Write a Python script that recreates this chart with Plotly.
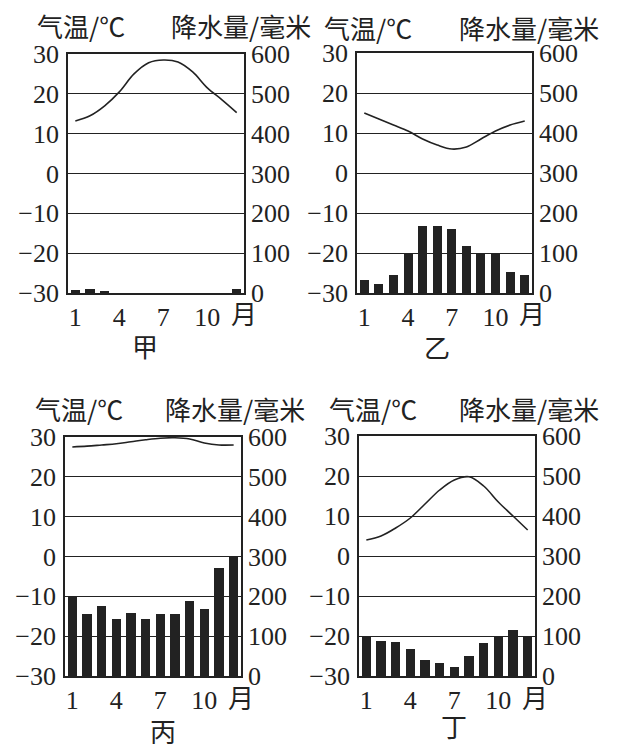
import plotly.graph_objects as go

months = list(range(1, 13))
tick_months = [1, 4, 7, 10]
tick_text = ["1", "4", "7", "10"]
temp_ticks = [-30, -20, -10, 0, 10, 20, 30]
rain_ticks = [0, 100, 200, 300, 400, 500, 600]

names = ["甲", "乙", "丙", "丁"]

# 气温 (℃)
temp_jia = [13.2, 14.5, 17, 20.5, 25, 27.8, 28.5, 28, 25.5, 21.5, 18.5, 15.3]
temp_yi = [15, 13.5, 12, 10.5, 8.5, 7, 6, 6.5, 8.5, 10.5, 12, 13]
temp_bing = [27.5, 27.7, 28, 28.3, 28.8, 29.3, 29.7, 29.8, 29.5, 28.5, 28, 28]
temp_ding = [4, 5, 7, 9.5, 13, 16.5, 19, 19.8, 17.5, 13.5, 10, 6.5]

# 降水量 (毫米)
rain_jia = [8, 11, 5, 0, 0, 0, 0, 0, 0, 0, 0, 11]
rain_yi = [33, 22, 45, 100, 168, 167, 159, 117, 100, 100, 52, 45]
rain_bing = [200, 156, 176, 144, 159, 142, 156, 156, 188, 167, 270, 300]
rain_ding = [100, 88, 84, 68, 41, 32, 23, 50, 83, 100, 116, 100]

temps = [temp_jia, temp_yi, temp_bing, temp_ding]
rains = [rain_jia, rain_yi, rain_bing, rain_ding]

# page body has an 8px margin, so the figure is a bit smaller than the window
OFF = 8
W, H = 620, 746
INK = "#222222"
NUM_FONT = "Times New Roman"
CJK_FONT = "Noto Sans CJK SC"

# plot boxes in window pixels: left, right, top, bottom
boxes = [(68, 244, 54, 293), (357, 532, 53, 293),
         (65, 241, 437, 676), (359, 535, 436, 676)]
# label positions in window pixels: (left title x0, right title x1, title y, name x, name y)
labels = [(35, 313, 25, 145, 345), (322, 601, 27, 437, 346),
          (33, 307, 408, 163, 730), (327, 601, 408, 454, 725)]


def px(v):
    return (v - OFF) / W


def py(v):
    return 1 - (v - OFF) / H


fig = go.Figure()
layout = {}
annotations = []

for i in range(4):
    l, r, t, b = boxes[i]
    xd = [px(l), px(r)]
    yd = [py(b), py(t)]
    xa = "x" if i == 0 else f"x{i + 1}"
    ya = f"y{2 * i + 1}" if i > 0 else "y"
    yb = f"y{2 * i + 2}"
    xkey = "xaxis" if i == 0 else f"xaxis{i + 1}"
    ykey = "yaxis" if i == 0 else f"yaxis{2 * i + 1}"
    ykey2 = f"yaxis{2 * i + 2}"

    fig.add_trace(go.Bar(x=months, y=rains[i], xaxis=xa, yaxis=yb,
                         marker=dict(color=INK, line=dict(width=0)),
                         width=0.62, showlegend=False))
    fig.add_trace(go.Scatter(x=months, y=temps[i], xaxis=xa, yaxis=ya,
                             mode="lines", line=dict(color=INK, width=1.6, shape="spline"),
                             showlegend=False))

    layout[xkey] = dict(domain=xd, anchor=ya, range=[0.5, 12.5], automargin=False,
                        tickvals=tick_months, ticktext=tick_text, ticks="", ticklen=0,
                        showgrid=False, zeroline=False, showline=True, mirror=True,
                        linecolor=INK, linewidth=1.6,
                        tickfont=dict(family=NUM_FONT, size=26, color=INK))
    layout[ykey] = dict(domain=yd, anchor=xa, range=[-30, 30], tickvals=temp_ticks,
                        ticks="", ticklen=0, automargin=False,
                        showgrid=True, gridcolor=INK, gridwidth=1.4,
                        zeroline=False, showline=True, mirror=True,
                        linecolor=INK, linewidth=1.6, ticklabelstandoff=2,
                        tickfont=dict(family=NUM_FONT, size=26, color=INK))
    layout[ykey2] = dict(domain=yd, anchor=xa, overlaying=ya, side="right",
                         range=[0, 600], tickvals=rain_ticks, ticks="", ticklen=0,
                         automargin=False, showgrid=False, zeroline=False, showline=False,
                         ticklabelstandoff=6,
                         tickfont=dict(family=NUM_FONT, size=26, color=INK))

    tx0, tx1, ty, nx, ny = labels[i]
    annotations.append(dict(text="气温/℃", x=px(tx0), y=py(ty), xref="paper", yref="paper",
                            xanchor="left", yanchor="middle", showarrow=False,
                            font=dict(family=CJK_FONT, size=26, color=INK)))
    annotations.append(dict(text="降水量/毫米", x=px(tx1), y=py(ty), xref="paper", yref="paper",
                            xanchor="right", yanchor="middle", showarrow=False,
                            font=dict(family=CJK_FONT, size=26, color=INK)))
    annotations.append(dict(text=names[i], x=px(nx), y=py(ny), xref="paper", yref="paper",
                            xanchor="center", yanchor="middle", showarrow=False,
                            font=dict(family=CJK_FONT, size=26, color=INK)))
    annotations.append(dict(text="月", x=px(r), y=py(b + 20), xref="paper", yref="paper",
                            xanchor="center", yanchor="middle", showarrow=False,
                            font=dict(family=CJK_FONT, size=26, color=INK)))

fig.update_layout(width=W, height=H, margin=dict(l=0, r=0, t=0, b=0),
                  font=dict(family=NUM_FONT, size=26, color=INK),
                  paper_bgcolor="white", plot_bgcolor="white",
                  annotations=annotations, bargap=0, **layout)

fig.write_html("out.html")
